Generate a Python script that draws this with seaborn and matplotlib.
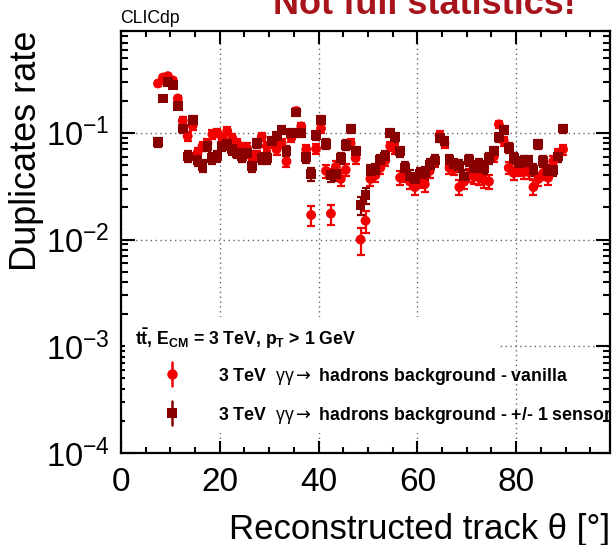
import matplotlib
matplotlib.use("Agg")
import matplotlib.pyplot as plt
import numpy as np
import pandas as pd
import seaborn as sns
from matplotlib.ticker import LogLocator, NullFormatter, MultipleLocator, FixedLocator
from matplotlib.patches import Rectangle

# ---------------- data ----------------
theta = [7.5, 8.5, 9.5, 10.5, 11.5, 12.5, 13.5, 14.5, 15.5, 16.5,
         17.5, 18.5, 19.5, 20.5, 21.5, 22.5, 23.5, 24.5, 25.5, 26.5,
         27.5, 28.5, 29.5, 30.5, 31.5, 32.5, 33.5, 34.5, 35.5, 36.5,
         37.5, 38.5, 39.5, 40.5, 41.5, 42.5, 43.5, 44.5, 45.5, 46.5,
         47.5, 48.5, 49.5, 50.5, 51.5, 52.5, 53.5, 54.5, 55.5, 56.5,
         57.5, 58.5, 59.5, 60.5, 61.5, 62.5, 63.5, 64.5, 65.5, 66.5,
         67.5, 68.5, 69.5, 70.5, 71.5, 72.5, 73.5, 74.5, 75.5, 76.5,
         77.5, 78.5, 79.5, 80.5, 81.5, 82.5, 83.5, 84.5, 85.5, 86.5,
         87.5, 88.5, 89.5]

vanilla = [0.29, 0.33, 0.34, 0.31, 0.21, 0.13, 0.093, 0.117, 0.065, 0.075,
           0.08, 0.097, 0.1, 0.09, 0.104, 0.09, 0.08, 0.072, 0.072, 0.06,
           0.06, 0.092, 0.075, 0.08, 0.07, 0.08, 0.054, 0.09, 0.16, 0.115,
           0.07, 0.017, 0.071, 0.11, 0.044, 0.0175, 0.048, 0.037, 0.045, 0.08,
           0.058, 0.01, 0.015, 0.037, 0.04, 0.047, 0.055, 0.075, 0.071, 0.038,
           0.04, 0.035, 0.031, 0.036, 0.033, 0.044, 0.054, 0.095, 0.08, 0.047,
           0.046, 0.031, 0.035, 0.04, 0.039, 0.038, 0.036, 0.035, 0.06, 0.12,
           0.084, 0.047, 0.042, 0.045, 0.043, 0.043, 0.031, 0.037, 0.042, 0.038,
           0.054, 0.063, 0.07]

vanilla_err = [0.015, 0.016, 0.016, 0.016, 0.013, 0.010, 0.0085, 0.0096, 0.0071, 0.0077,
               0.0079, 0.0087, 0.0089, 0.0084, 0.009, 0.0084, 0.0079, 0.0075, 0.0075, 0.0069,
               0.0069, 0.0085, 0.0077, 0.0079, 0.0074, 0.0079, 0.0065, 0.0084, 0.011, 0.0095,
               0.0074, 0.0037, 0.0075, 0.0093, 0.0059, 0.0037, 0.0061, 0.0054, 0.0059, 0.0079,
               0.0067, 0.0028, 0.0034, 0.0054, 0.0056, 0.0061, 0.0066, 0.0077, 0.0075, 0.0055,
               0.0056, 0.0052, 0.0049, 0.0053, 0.0051, 0.0059, 0.0065, 0.0086, 0.0079, 0.0061,
               0.006, 0.0049, 0.0052, 0.0056, 0.0055, 0.0055, 0.0053, 0.0052, 0.0069, 0.0097,
               0.0081, 0.0061, 0.0057, 0.0059, 0.0058, 0.0058, 0.0049, 0.0054, 0.0057, 0.0055,
               0.0065, 0.007, 0.0074]

sensor = [0.082, 0.21, 0.30, 0.28, 0.18, 0.11, 0.06, 0.133, 0.056, 0.049,
          0.075, 0.058, 0.06, 0.075, 0.078, 0.07, 0.065, 0.06, 0.065, 0.049,
          0.08, 0.058, 0.058, 0.084, 0.093, 0.107, 0.068, 0.1, 0.155, 0.1,
          0.059, 0.041, 0.095, 0.133, 0.079, 0.04, 0.041, 0.058, 0.077, 0.11,
          0.067, 0.021, 0.026, 0.044, 0.045, 0.056, 0.06, 0.1, 0.091, 0.067,
          0.047, 0.039, 0.037, 0.041, 0.042, 0.05, 0.055, 0.09, 0.084, 0.056,
          0.051, 0.049, 0.039, 0.056, 0.047, 0.05, 0.047, 0.058, 0.067, 0.091,
          0.107, 0.072, 0.058, 0.052, 0.054, 0.054, 0.045, 0.078, 0.054, 0.044,
          0.045, 0.06, 0.11]

sensor_err = [0.008, 0.013, 0.015, 0.015, 0.012, 0.0093, 0.0069, 0.010, 0.0066, 0.0062,
              0.0077, 0.0067, 0.0069, 0.0077, 0.0078, 0.0074, 0.0071, 0.0069, 0.0071, 0.0062,
              0.0079, 0.0067, 0.0067, 0.0081, 0.0085, 0.0092, 0.0073, 0.0089, 0.011, 0.0089,
              0.0068, 0.0057, 0.0086, 0.010, 0.0079, 0.0056, 0.0057, 0.0067, 0.0078, 0.0093,
              0.0072, 0.0041, 0.0045, 0.0059, 0.0059, 0.0066, 0.0069, 0.0089, 0.0084, 0.0072,
              0.0061, 0.0055, 0.0054, 0.0057, 0.0057, 0.0063, 0.0066, 0.0084, 0.0081, 0.0066,
              0.0063, 0.0062, 0.0055, 0.0066, 0.0061, 0.0063, 0.0061, 0.0067, 0.0072, 0.0084,
              0.0092, 0.0075, 0.0067, 0.0064, 0.0065, 0.0065, 0.0059, 0.0078, 0.0065, 0.0059,
              0.0059, 0.0069, 0.0093]

series_names = ["vanilla", "sensor"]
label_vanilla = r"3 TeV  $\mathrm{\gamma\gamma}\mathsf{\rightarrow}$ hadrons background - vanilla"
label_sensor = r"3 TeV  $\mathrm{\gamma\gamma}\mathsf{\rightarrow}$ hadrons background - +/- 1 sensor"
header = r"$\mathbf{t\bar{t}}$, E$_{\mathbf{CM}}$ = 3 TeV, p$_{\mathbf{T}}$ > 1 GeV"
xlabel = "Reconstructed track θ [°]"
ylabel = "Duplicates rate"

# ---------------- style ----------------
sns.set_style("ticks")
plt.rcParams['font.family'] = ['Liberation Sans', 'DejaVu Sans']
plt.rcParams['mathtext.fontset'] = 'custom'
plt.rcParams['mathtext.rm'] = 'Liberation Sans'
plt.rcParams['mathtext.it'] = 'Liberation Sans:italic'
plt.rcParams['mathtext.bf'] = 'Liberation Sans:bold'
plt.rcParams['mathtext.sf'] = 'DejaVu Sans'
for k in ['text.color', 'axes.labelcolor', 'xtick.color', 'ytick.color', 'axes.edgecolor']:
    plt.rcParams[k] = 'black'

c_van = "#f00000"
c_sen = "#880000"

fig = plt.figure(figsize=(6.14, 5.45), dpi=100)
ax = fig.add_axes([121 / 614, 1 - 453 / 545, 489 / 614, 422 / 545])

df = pd.concat([
    pd.DataFrame({"theta": theta, "rate": vanilla, "err": vanilla_err, "series": "vanilla"}),
    pd.DataFrame({"theta": theta, "rate": sensor, "err": sensor_err, "series": "sensor"}),
], ignore_index=True)

ax.errorbar(theta, vanilla, yerr=vanilla_err, fmt='none', ecolor=c_van,
            elinewidth=1.6, capsize=3.2, capthick=1.6, zorder=2)
ax.errorbar(theta, sensor, yerr=sensor_err, fmt='none', ecolor=c_sen,
            elinewidth=1.6, capsize=3.2, capthick=1.6, zorder=2.5)
sns.scatterplot(data=df, x="theta", y="rate", hue="series", style="series",
                palette={"vanilla": c_van, "sensor": c_sen},
                markers={"vanilla": "o", "sensor": "s"},
                s=50, linewidth=0, edgecolor="none", legend=False, ax=ax, zorder=3)

ax.set_yscale('log')
ax.set_xlim(0, 99)
ax.set_ylim(1e-4, 0.9)

ax.xaxis.set_major_locator(FixedLocator([0, 20, 40, 60, 80]))
ax.xaxis.set_minor_locator(MultipleLocator(5))
ax.yaxis.set_major_locator(LogLocator(base=10, numticks=10))
ax.yaxis.set_minor_locator(LogLocator(base=10, subs=np.arange(2, 10), numticks=20))
ax.yaxis.set_minor_formatter(NullFormatter())

ax.grid(True, which='major', linestyle=(0, (1, 2.5)), color='#666666', linewidth=1.0)
ax.set_axisbelow(True)

for s in ax.spines.values():
    s.set_linewidth(1.6)
    s.set_color('black')
    s.set_visible(True)

ax.tick_params(axis='both', which='both', direction='in', top=True, right=True,
               width=1.5, color='black', labelcolor='black')
ax.tick_params(axis='x', which='major', length=9, labelsize=24, pad=10)
ax.tick_params(axis='x', which='minor', length=4)
ax.tick_params(axis='y', which='major', length=10, labelsize=23.5, pad=8)
ax.tick_params(axis='y', which='minor', length=5)

ax.set_xlabel(xlabel, fontsize=25, loc='right', color='black')
ax.set_ylabel(ylabel, fontsize=26, loc='top', color='black')
ax.xaxis.set_label_coords(1.0, -0.142)
ax.yaxis.set_label_coords(-0.157, 1.0)

# legend (white box without border, ROOT style)
ax.add_patch(Rectangle((0.008, 0.047), 0.767, 0.275, transform=ax.transAxes,
                       facecolor='white', edgecolor='none', zorder=1))
ax.text(0.0286, 0.256, header, transform=ax.transAxes, fontsize=12.7,
        fontweight='bold', ha='left', va='baseline', zorder=5)
for yl, col, mk, lab in [(0.187, c_van, 'o', label_vanilla), (0.0955, c_sen, 's', label_sensor)]:
    ax.plot([0.1036, 0.1036], [yl - 0.028, yl + 0.028], color=col, lw=1.8,
            transform=ax.transAxes, zorder=5, clip_on=False)
    ax.plot([0.1036], [yl], marker=mk, color=col, markersize=7.5, mew=0,
            transform=ax.transAxes, zorder=6, clip_on=False)
    ax.text(0.198, yl - 0.006, lab, transform=ax.transAxes, fontsize=12.8,
            fontweight='bold', ha='left', va='center', zorder=5, clip_on=False)

fig.text(120 / 614, 1 - 22.7 / 545, "CLICdp", fontsize=12.7, ha='left', va='baseline')
fig.text(424 / 614, 1 - 14 / 545, "Not full statistics!", fontsize=26, fontweight='bold',
         color='#a8141c', ha='center', va='baseline')

fig.savefig("out.png", dpi=100)
